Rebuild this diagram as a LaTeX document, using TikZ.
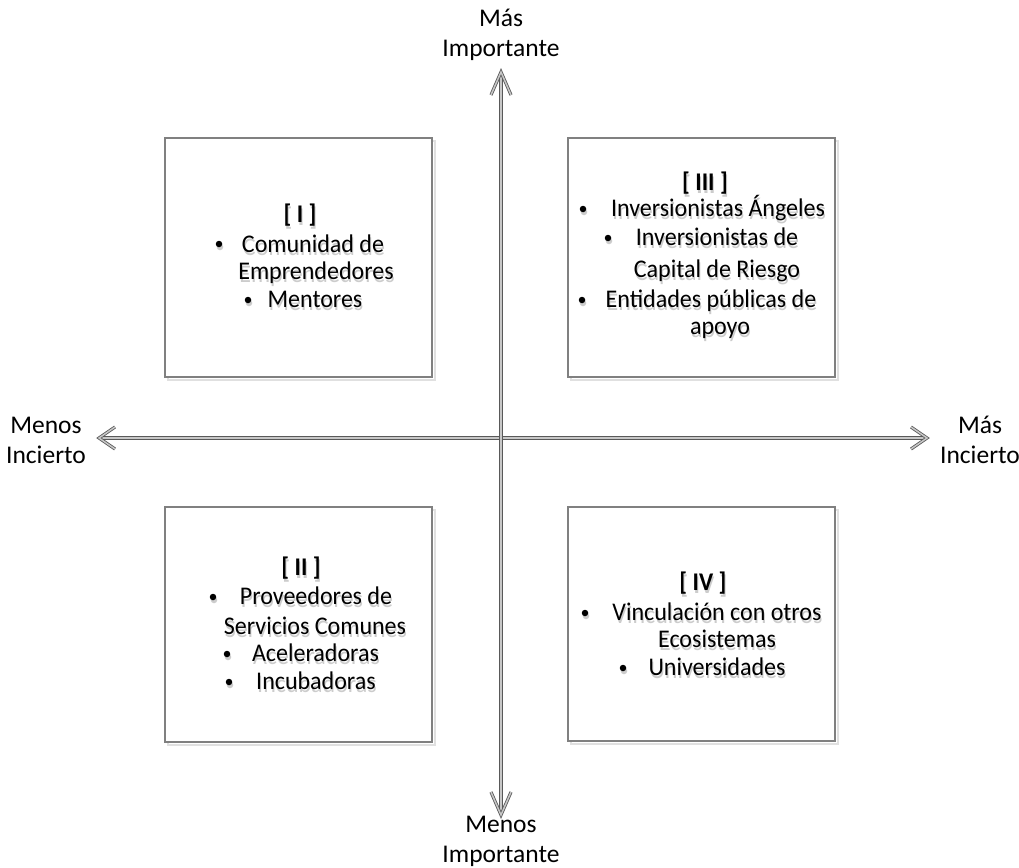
\documentclass[tikz,border=0pt]{standalone}
\usepackage{fontspec}
\setmainfont{Carlito}
\usetikzlibrary{shadows}
\tikzset{
 qbox/.style={draw=black!50, line width=1.3pt, fill=white, inner sep=0pt,
   general shadow={shadow xshift=2.5pt, shadow yshift=-2.5pt, draw=black!12, line width=2pt}},
 txt/.style={inner sep=0pt, anchor=base, font=\fontsize{24}{28}\selectfont},
 ttl/.style={inner sep=0pt, anchor=base, font=\fontsize{24}{28}\selectfont\bfseries},
 axlab/.style={align=center, font=\fontsize{25.5}{30}\selectfont, inner sep=0pt},
 axline/.style={draw=black!65, line width=0.8pt, double=black!22, double distance=1.5pt, line join=miter},
 axshadow/.style={draw=black!12, line width=3pt, line join=miter},
 bul/.style={circle, fill=black, inner sep=0pt, minimum size=6.5pt},
 bulsh/.style={circle, fill=black!20, inner sep=0pt, minimum size=6.5pt},
}
\newcommand\qline[5]{%
  \node[#1, text=black!20] at ({#3+1},{#4+10.5}) {\scalebox{1}[1.06]{#5}};
  \node[#1] (#2) at ({#3},{#4+7.5}) {\scalebox{1}[1.06]{#5}};}
\newcommand\qbul[3]{%
  \node[bulsh] at ({#2+1},{#3+3}) {};
  \node[bul] (#1) at (#2,#3) {};}
\begin{document}
\begin{tikzpicture}[x=1pt,y=-1pt]
\useasboundingbox (0,0) rectangle (1019,867);
% boxes
\node[qbox, minimum width=267pt, minimum height=239pt] (b1) at (298.5,257.5) {};
\node[qbox, minimum width=267pt, minimum height=239pt] (b3) at (701.5,257.5) {};
\node[qbox, minimum width=267pt, minimum height=235pt] (b2) at (298.5,624.5) {};
\node[qbox, minimum width=267pt, minimum height=234pt] (b4) at (701.5,624) {};
% axis coordinates
\coordinate (top) at (501,72);
\coordinate (topl) at (491,95);
\coordinate (topr) at (511,95);
\coordinate (bot) at (501,815);
\coordinate (botl) at (491,792);
\coordinate (botr) at (511,792);
\coordinate (lft) at (99,438);
\coordinate (lftu) at (115,427);
\coordinate (lftd) at (115,449);
\coordinate (rgt) at (927,438);
\coordinate (rgtu) at (911,427);
\coordinate (rgtd) at (911,449);
% axis shadows
\begin{scope}[shift={(2.5,2.5)}]
\draw[axshadow] (top) -- (bot);
\draw[axshadow] (topl) -- (top) -- (topr);
\draw[axshadow] (botl) -- (bot) -- (botr);
\draw[axshadow] (lft) -- (rgt);
\draw[axshadow] (lftu) -- (lft) -- (lftd);
\draw[axshadow] (rgtu) -- (rgt) -- (rgtd);
\end{scope}
% axes
\draw[axline] (lft) -- (rgt);
\draw[axline] (top) -- (bot);
\draw[axline] (topl) -- (top) -- (topr);
\draw[axline] (botl) -- (bot) -- (botr);
\draw[axline] (lftu) -- (lft) -- (lftd);
\draw[axline] (rgtu) -- (rgt) -- (rgtd);
% axis labels
\node[axlab] (ltop) at (501,35) {Más\\Importante};
\node[axlab] (lbot) at (501,841) {Menos\\Importante};
\node[axlab] (llft) at (46,440) {Menos\\Incierto};
\node[axlab] (lrgt) at (980,440) {Más\\Incierto};
% box I
\qline{ttl}{t1}{300}{215}{[ I ]}
\qbul{b1a}{219}{244}
\qline{txt}{l1a}{313}{245}{Comunidad de}
\qline{txt}{l1b}{316}{272}{Emprendedores}
\qbul{b1b}{248}{300}
\qline{txt}{l1c}{315}{300}{Mentores}
% box III
\qline{ttl}{t3}{705}{183}{[ III ]}
\qbul{b3a}{583}{209}
\qline{txt}{l3a}{718}{209}{Inversionistas Ángeles}
\qbul{b3b}{608}{238}
\qline{txt}{l3b}{717}{238}{Inversionistas de}
\qline{txt}{l3c}{717}{270}{Capital de Riesgo}
\qbul{b3c}{582}{300}
\qline{txt}{l3d}{711}{300}{Entidades públicas de}
\qline{txt}{l3e}{720}{327}{apoyo}
% box II
\qline{ttl}{t2}{301}{568}{[ II ]}
\qbul{b2a}{213}{597}
\qline{txt}{l2a}{316}{597}{Proveedores de}
\qline{txt}{l2b}{315}{627}{Servicios Comunes}
\qbul{b2b}{227}{654}
\qline{txt}{l2c}{315.5}{654}{Aceleradoras}
\qbul{b2c}{229}{682}
\qline{txt}{l2d}{316}{682}{Incubadoras}
% box IV
\qline{ttl}{t4}{703}{583}{[ IV ]}
\qbul{b4a}{585}{613}
\qline{txt}{l4a}{717}{613}{Vinculación con otros}
\qline{txt}{l4b}{717}{640}{Ecosistemas}
\qbul{b4b}{623}{668}
\qline{txt}{l4c}{717}{668}{Universidades}
\end{tikzpicture}
\end{document}
